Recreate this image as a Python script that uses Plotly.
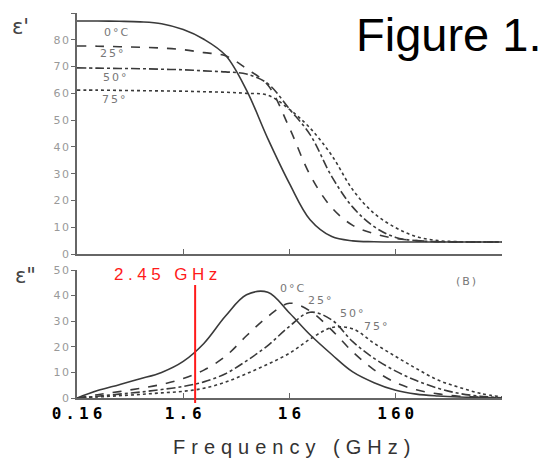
import math
import plotly.graph_objects as go

# ---------------- data ----------------
freq_ghz = [0.16, 0.25, 0.4, 0.63, 1.0, 1.6, 2.5, 4.0, 6.3, 10, 16, 25, 40, 63,
            100, 160, 250, 400, 630, 1000, 1600]

# real part  (epsilon')
eps_real_0C = [87.0, 87.0, 86.9, 86.7, 86.0, 83.8, 80.2, 74.2, 61.2, 43.1, 26.3,
               12.8, 6.5, 4.9, 4.6, 4.5, 4.5, 4.5, 4.5, 4.5, 4.5]
eps_real_25C = [77.7, 77.6, 77.4, 77.2, 76.9, 76.3, 75.2, 74.0, 69.2, 63.1, 47.0,
                29.5, 17.3, 10.7, 7.6, 5.8, 5.0, 4.6, 4.5, 4.5, 4.5]
eps_real_50C = [69.5, 69.4, 69.3, 69.2, 69.0, 68.8, 68.4, 68.0, 67.2, 63.6, 54.1,
                44.6, 28.9, 17.5, 10.2, 6.2, 5.0, 4.6, 4.5, 4.5, 4.5]
eps_real_75C = [61.2, 61.2, 61.1, 61.0, 60.9, 60.8, 60.6, 60.4, 60.0, 59.3, 54.0,
                47.0, 36.8, 24.0, 15.2, 9.8, 6.5, 5.0, 4.6, 4.5, 4.5]

# imaginary part (epsilon'')
eps_imag_0C = [0.0, 2.9, 5.2, 7.5, 10.0, 14.3, 21.3, 32.0, 40.3, 41.3, 33.2,
               24.7, 17.0, 10.2, 6.0, 3.0, 1.5, 0.8, 0.4, 0.2, 0.0]
eps_imag_25C = [0.0, 1.3, 2.5, 3.8, 5.3, 7.6, 10.9, 16.3, 24.3, 31.8, 37.0,
                34.0, 26.5, 18.0, 11.0, 6.0, 3.2, 1.6, 0.7, 0.3, 0.0]
eps_imag_50C = [0.0, 0.7, 1.5, 2.3, 3.3, 4.5, 6.3, 9.5, 14.5, 20.5, 28.0,
                33.5, 30.5, 22.0, 15.5, 10.5, 6.8, 3.8, 1.8, 0.7, 0.1]
eps_imag_75C = [0.0, 0.4, 0.9, 1.4, 2.0, 2.6, 3.8, 6.2, 9.5, 13.2, 17.5,
                23.0, 27.5, 27.0, 21.4, 16.2, 11.5, 7.0, 4.2, 1.8, 0.4]

series_labels = ["0°C", "25°", "50°", "75°"]
x_tick_vals = [0.16, 1.6, 16, 160]
x_tick_text = ["0.16", "1.6", "16", "160"]
top_y_ticks = list(range(0, 91, 10))
bottom_y_ticks = list(range(0, 51, 10))
marker_freq = 2.07          # where the red marker line sits on the axis
marker_label = "2.45 GHz"

# ---------------- geometry ----------------
# the page body has an 8 px margin, so the figure is drawn 8 px in/down
OFF = 8
W, H = 552 - OFF, 462 - OFF
ML, MR, MT, MB = 77 - OFF, 50, 13 - OFF, 64
PW, PH = W - ML - MR, H - MT - MB


def px(xp):
    """reference-picture x pixel -> paper x"""
    return (xp - OFF - ML) / PW


def py(yp):
    """reference-picture y pixel -> paper y"""
    return (H - MB - (yp - OFF)) / PH


def spaced(s, sp):
    if len(s) < 2:
        return s
    return f'<span style="letter-spacing:{sp}px">{s[:-1]}</span>{s[-1]}'


line_col = "#3a3a3a"
dashes = ["solid", "dash", "dashdot", "dot"]

fig = go.Figure()
for vals, lab, dsh in zip([eps_real_0C, eps_real_25C, eps_real_50C, eps_real_75C],
                          series_labels, dashes):
    fig.add_trace(go.Scatter(x=freq_ghz, y=vals, mode="lines", name=lab,
                             xaxis="x", yaxis="y", line_shape="spline",
                             line=dict(color=line_col, width=1.6, dash=dsh),
                             showlegend=False))
for vals, lab, dsh in zip([eps_imag_0C, eps_imag_25C, eps_imag_50C, eps_imag_75C],
                          series_labels, dashes):
    fig.add_trace(go.Scatter(x=freq_ghz, y=vals, mode="lines", name=lab,
                             xaxis="x2", yaxis="y2", line_shape="spline",
                             line=dict(color=line_col, width=1.6, dash=dsh),
                             showlegend=False))

xr = [math.log10(0.16), math.log10(1600)]
axis_common = dict(showline=True, linecolor="#666", linewidth=1.5,
                   showgrid=False, zeroline=False, automargin=False)

top_dom = [py(254), 1.0]
bot_dom = [0.0, py(270)]

fig.update_layout(
    width=W, height=H,
    margin=dict(l=ML, r=MR, t=MT, b=MB),
    paper_bgcolor="white", plot_bgcolor="white",
    xaxis=dict(type="log", range=xr, domain=[0, 1], anchor="y",
               tickvals=[1.6, 16, 160, 1600], ticks="inside", ticklen=5,
               tickcolor="#666", showticklabels=False, **axis_common),
    yaxis=dict(range=[0, 90], domain=top_dom, anchor="x",
               tickvals=top_y_ticks,
               ticktext=[spaced(str(v), 1.5) for v in top_y_ticks],
               ticks="outside", ticklen=4, tickcolor="#666",
               tickfont=dict(family="DejaVu Sans", size=11, color="#999"),
               **axis_common),
    xaxis2=dict(type="log", range=xr, domain=[0, 1], anchor="y2",
                tickvals=x_tick_vals,
                ticktext=[spaced(t, 4) for t in x_tick_text],
                ticks="inside", ticklen=5, tickcolor="#666",
                tickfont=dict(family="DejaVu Sans Mono", size=16, color="black",
                              weight="bold"),
                **axis_common),
    yaxis2=dict(range=[0, 50], domain=bot_dom, anchor="x2",
                tickvals=bottom_y_ticks,
                ticktext=[spaced(str(v), 1.5) for v in bottom_y_ticks],
                ticks="outside", ticklen=4, tickcolor="#666",
                tickfont=dict(family="DejaVu Sans", size=11, color="#999"),
                **axis_common),
)

# red marker line
fig.add_shape(type="line", xref="x2", yref="paper", x0=marker_freq, x1=marker_freq,
              y0=py(403), y1=py(285), line=dict(color="#ff1a1a", width=2))

ann = []


def add_text(text, xp, yp, size, color, family="DejaVu Sans", xanchor="center",
             weight="normal"):
    ann.append(dict(text=text, x=px(xp), y=py(yp), xref="paper", yref="paper",
                    showarrow=False, xanchor=xanchor, yanchor="middle",
                    font=dict(family=family, size=size, color=color, weight=weight)))


add_text("Figure 1.", 543, 34, 47, "black", family="Liberation Sans", xanchor="right")
add_text("ε'", 21, 27, 21, "#444")
add_text('ε"', 25, 276, 21, "#444")
add_text(spaced(marker_label, 4.5), 165, 274, 17, "#ff1a1a", family="Liberation Sans")
add_text(spaced("(B)", 2), 466, 281, 11, "#777")
add_text(spaced("Frequency (GHz)", 6), 291, 447, 20, "#333", family="Liberation Sans")

top_label_pos = [(116, 32), (112, 53), (115, 78), (114, 100)]
for lab, (xp, yp) in zip(series_labels, top_label_pos):
    add_text(spaced(lab, 2), xp, yp, 11, "#777")
bot_label_pos = [(292, 288), (320, 300), (352, 313), (376, 326)]
for lab, (xp, yp) in zip(series_labels, bot_label_pos):
    add_text(spaced(lab, 2), xp, yp, 11, "#777")

fig.update_layout(annotations=ann)
fig.write_html("out.html")
